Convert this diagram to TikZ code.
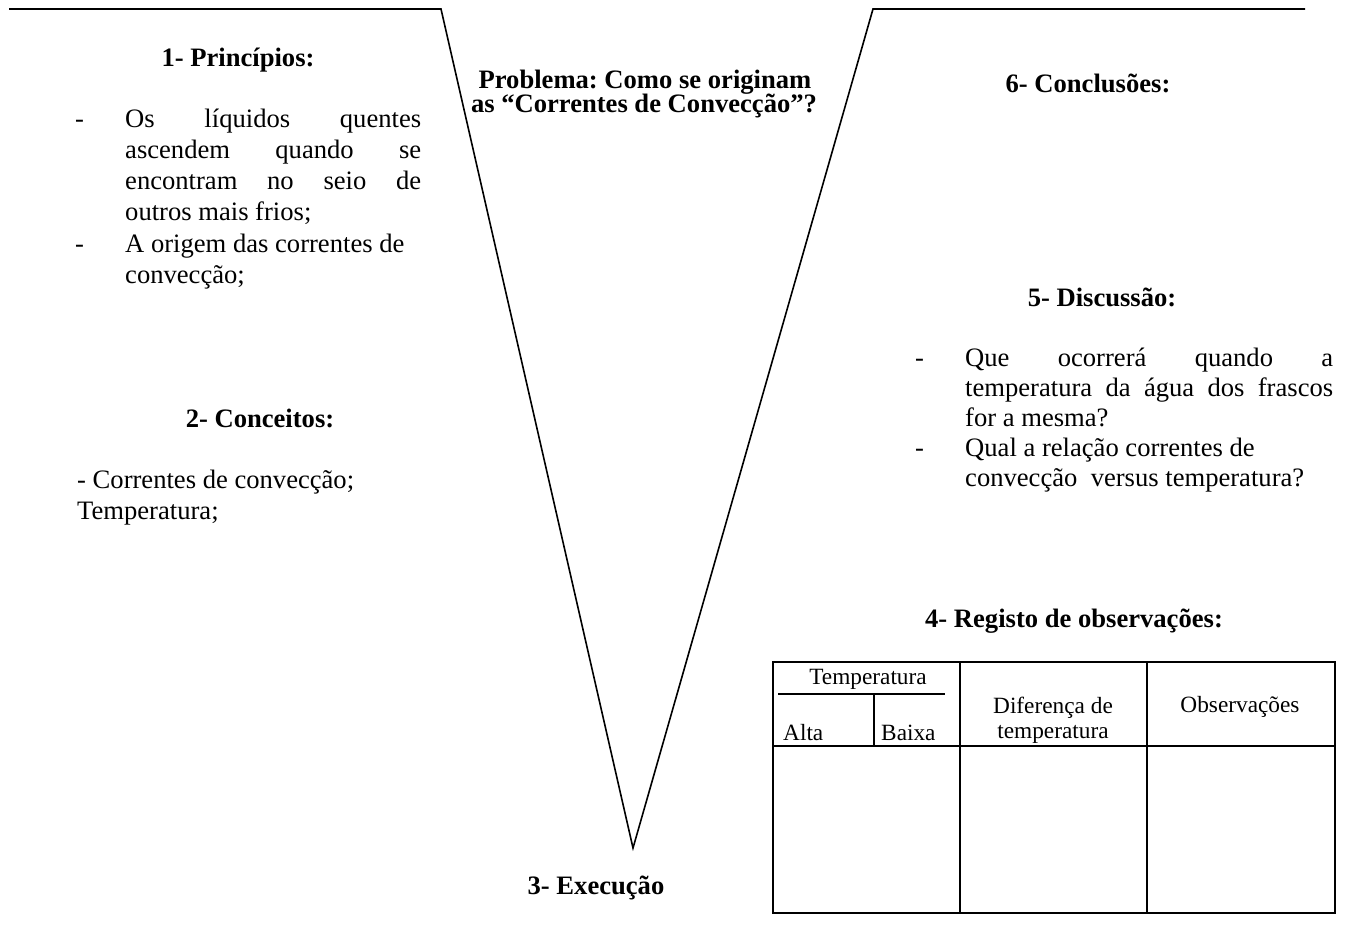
\documentclass[tikz,border=0pt]{standalone}
\usepackage{fontspec}
\setmainfont{Liberation Serif}
\frenchspacing
\newcommand\bodyfnt{\fontsize{26.6}{31}\selectfont}
\newcommand\tabfnt{\fontsize{23.3}{27}\selectfont}
\begin{document}
\begin{tikzpicture}[x=1pt,y=-1pt,
  vline/.style={line width=1.6pt, line join=miter},
  tline/.style={line width=1.6pt},
  txt/.style={inner sep=0pt, anchor=base west, font=\bodyfnt},
  head/.style={inner sep=0pt, anchor=base, font=\bodyfnt\bfseries},
  ctxt/.style={inner sep=0pt, anchor=base, font=\tabfnt},
  ltxt/.style={inner sep=0pt, anchor=base west, font=\tabfnt}]
\useasboundingbox (0,0) rectangle (1349,928);
% V shape
\coordinate (tl) at (9,9);
\coordinate (vl) at (441,9);
\coordinate (vb) at (633,848);
\coordinate (vr) at (873,9);
\coordinate (tr) at (1305,9);
\draw[vline] (tl) -- (vl) -- (vb) -- (vr) -- (tr);
% headings
\node[head] (h1) at (238,67) {1- Princípios:};
\node[head] (pb1) at (645,89) {Problema: Como se originam};
\node[head] (pb2) at (644,113) {as “Correntes de Convecção”?};
\node[head] (h6) at (1088,93) {6- Conclusões:};
\node[head] (h5) at (1102,306) {5- Discussão:};
\node[head] (h2) at (260,427) {2- Conceitos:};
\node[head] (h4) at (1074,627) {4- Registo de observações:};
\node[head] (h3) at (596,894) {3- Execução};
% principles
\node[txt] (d1) at (75,128) {-};
\node[txt] (p1) at (125,128) {\makebox[296pt][s]{Os líquidos quentes}};
\node[txt] (p2) at (125,159) {\makebox[296pt][s]{ascendem quando se}};
\node[txt] (p3) at (125,190) {\makebox[296pt][s]{encontram no seio de}};
\node[txt] (p4) at (125,221) {outros mais frios;};
\node[txt] (d2) at (75,252) {-};
\node[txt] (p5) at (125,252) {A origem das correntes de};
\node[txt] (p6) at (125,283) {convecção;};
% concepts
\node[txt] (c1) at (77,488) {- Correntes de convecção;};
\node[txt] (c2) at (77,519) {Temperatura;};
% discussion
\node[txt] (d3) at (915,366) {-};
\node[txt] (q1) at (965,366) {\makebox[368pt][s]{Que ocorrerá quando a}};
\node[txt] (q2) at (965,396) {\makebox[368pt][s]{temperatura da água dos frascos}};
\node[txt] (q3) at (965,426) {for a mesma?};
\node[txt] (d4) at (915,456) {-};
\node[txt] (q4) at (965,456) {Qual a relação correntes de};
\node[txt] (q5) at (965,486) {convecção\ \ versus temperatura?};
% table
\coordinate (b1) at (773,662);
\coordinate (b2) at (1335,913);
\draw[tline] (b1) rectangle (b2);
\coordinate (c1t) at (960,662);
\coordinate (c1b) at (960,913);
\coordinate (c2t) at (1147,662);
\coordinate (c2b) at (1147,913);
\draw[tline] (c1t) -- (c1b);
\draw[tline] (c2t) -- (c2b);
\coordinate (hl) at (773,746);
\coordinate (hr) at (1335,746);
\draw[tline] (hl) -- (hr);
\coordinate (il) at (778,694);
\coordinate (ir) at (945,694);
\draw[line width=1.4pt] (il) -- (ir);
\coordinate (vt) at (874,694);
\coordinate (vbt) at (874,745);
\draw[line width=1.4pt] (vt) -- (vbt);
\node[ctxt] (t1) at (868,684) {Temperatura};
\node[ltxt] (t2) at (783,740) {Alta};
\node[ltxt] (t3) at (881,740) {Baixa};
\node[ctxt] (t4) at (1053,713) {Diferença de};
\node[ctxt] (t5) at (1053,738) {temperatura};
\node[ctxt] (t6) at (1240,712) {Observações};
\end{tikzpicture}
\end{document}
